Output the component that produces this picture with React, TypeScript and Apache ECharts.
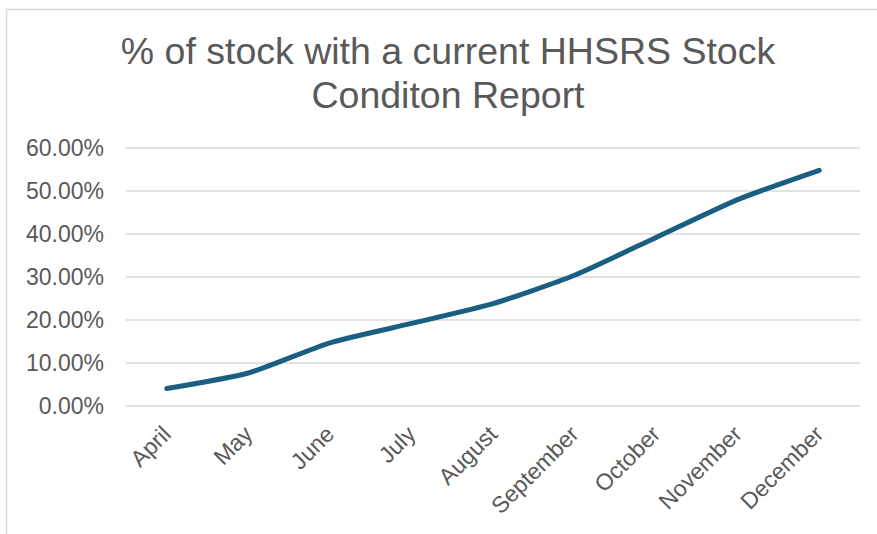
import React, { useEffect, useRef } from "react";
import * as echarts from "echarts";

const titleText = "% of stock with a current HHSRS Stock\nConditon Report";
const months = ["April", "May", "June", "July", "August", "September", "October", "November", "December"];
const stockPct = [0.0405, 0.0767, 0.147, 0.192, 0.238, 0.304, 0.392, 0.48, 0.548];
const yTicks = { min: 0, max: 0.6, interval: 0.1 };

export default function App() {
  const ref = useRef<HTMLDivElement>(null);
  useEffect(() => {
    const chart = echarts.init(ref.current!, undefined, { renderer: "svg" });
    const font = "'Liberation Sans', Arial, sans-serif";
    chart.setOption({
      animation: false,
      backgroundColor: "#ffffff",
      title: {
        text: titleText,
        left: 443,
        top: 24,
        textAlign: "center",
        textStyle: {
          fontFamily: font,
          fontSize: 37.5,
          fontWeight: "normal",
          color: "#595959",
          lineHeight: 44,
        },
      },
      graphic: [
        {
          type: "rect",
          shape: { x: 6.5, y: 9.5, width: 1000, height: 700 },
          style: { fill: "none", stroke: "#d9d9d9", lineWidth: 1.5 },
          silent: true,
        },
      ],
      grid: { left: 126, right: 17, top: 148, bottom: 128, containLabel: false },
      xAxis: {
        type: "category",
        data: months,
        boundaryGap: true,
        axisLine: { show: false },
        axisTick: { show: false },
        axisLabel: {
          rotate: 45,
          margin: 24,
          fontFamily: font,
          fontSize: 23,
          color: "#595959",
          interval: 0,
        },
      },
      yAxis: {
        type: "value",
        min: yTicks.min,
        max: yTicks.max,
        interval: yTicks.interval,
        axisLine: { show: false },
        axisTick: { show: false },
        splitLine: { lineStyle: { color: "#d9d9d9", width: 1.5 } },
        axisLabel: {
          margin: 22,
          fontFamily: font,
          fontSize: 23,
          color: "#595959",
          formatter: (v: number) => (v * 100).toFixed(2) + "%",
        },
      },
      series: [
        {
          type: "line",
          data: stockPct,
          smooth: 0.2,
          showSymbol: false,
          symbol: "none",
          lineStyle: { color: "#1a5f82", width: 5, cap: "round", join: "round" },
        },
      ],
    });
    return () => chart.dispose();
  }, []);
  return (
    <div
      ref={ref}
      style={{ position: "fixed", left: 0, top: 0, width: 877, height: 534 }}
    />
  );
}
